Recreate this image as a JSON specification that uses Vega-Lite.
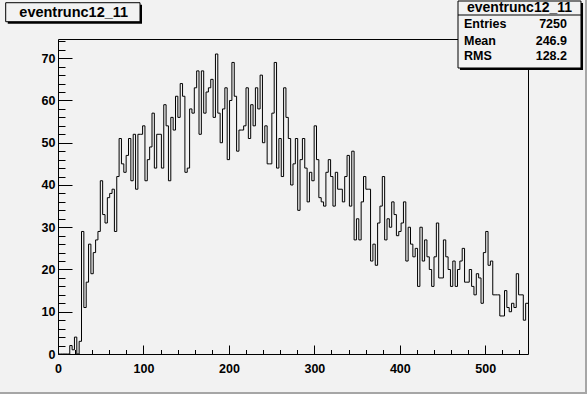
{
  "$schema": "https://vega.github.io/schema/vega-lite/v6.json",
  "width": 470,
  "height": 315,
  "autosize": "none",
  "padding": {"left": 58, "top": 39, "right": 59, "bottom": 40},
  "background": "#f2f2f2",
  "config": {
    "view": {"stroke": "black", "strokeWidth": 1, "fill": "#f2f2f2"},
    "font": "Liberation Sans",
    "axis": {"domain": false, "grid": false, "labelFont": "Liberation Sans", "labelFontWeight": "bold", "labelFontSize": 12.5, "labelColor": "black", "tickColor": "black", "tickWidth": 1, "labelOverlap": false, "labelFlush": false}
  },
  "resolve": {"axis": {"x": "independent", "y": "independent"}},
  "layer": [
    {
      "data": {"values": [
        {"x":0,"n":0},{"x":2.75,"n":0},{"x":5.5,"n":0},{"x":8.25,"n":0},{"x":11,"n":0},{"x":13.75,"n":2},{"x":16.5,"n":1},{"x":19.25,"n":4},{"x":22,"n":0},{"x":24.75,"n":3},
        {"x":27.5,"n":29},{"x":30.25,"n":11},{"x":33,"n":17},{"x":35.75,"n":26},{"x":38.5,"n":19},{"x":41.25,"n":24},{"x":44,"n":27},{"x":46.75,"n":29},{"x":49.5,"n":41},{"x":52.25,"n":33},
        {"x":55,"n":31},{"x":57.75,"n":37},{"x":60.5,"n":38},{"x":63.25,"n":39},{"x":66,"n":29},{"x":68.75,"n":42},{"x":71.5,"n":51},{"x":74.25,"n":45},{"x":77,"n":43},{"x":79.75,"n":47},
        {"x":82.5,"n":51},{"x":85.25,"n":41},{"x":88,"n":52},{"x":90.75,"n":39},{"x":93.5,"n":52},{"x":96.25,"n":52},{"x":99,"n":54},{"x":101.75,"n":41},{"x":104.5,"n":46},{"x":107.25,"n":49},
        {"x":110,"n":57},{"x":112.75,"n":44},{"x":115.5,"n":52},{"x":118.25,"n":52},{"x":121,"n":44},{"x":123.75,"n":59},{"x":126.5,"n":54},{"x":129.25,"n":41},{"x":132,"n":56},{"x":134.75,"n":53},
        {"x":137.5,"n":61},{"x":140.25,"n":56},{"x":143,"n":64},{"x":145.75,"n":61},{"x":148.5,"n":43},{"x":151.25,"n":44},{"x":154,"n":58},{"x":156.75,"n":57},{"x":159.5,"n":63},{"x":162.25,"n":67},
        {"x":165,"n":52},{"x":167.75,"n":67},{"x":170.5,"n":57},{"x":173.25,"n":62},{"x":176,"n":63},{"x":178.75,"n":65},{"x":181.5,"n":56},{"x":184.25,"n":71},{"x":187,"n":57},{"x":189.75,"n":50},
        {"x":192.5,"n":58},{"x":195.25,"n":63},{"x":198,"n":46},{"x":200.75,"n":60},{"x":203.5,"n":69},{"x":206.25,"n":61},{"x":209,"n":48},{"x":211.75,"n":53},{"x":214.5,"n":53},{"x":217.25,"n":54},
        {"x":220,"n":63},{"x":222.75,"n":51},{"x":225.5,"n":59},{"x":228.25,"n":54},{"x":231,"n":63},{"x":233.75,"n":58},{"x":236.5,"n":66},{"x":239.25,"n":50},{"x":242,"n":54},{"x":244.75,"n":45},
        {"x":247.5,"n":45},{"x":250.25,"n":57},{"x":253,"n":69},{"x":255.75,"n":44},{"x":258.5,"n":51},{"x":261.25,"n":42},{"x":264,"n":63},{"x":266.75,"n":56},{"x":269.5,"n":51},{"x":272.25,"n":40},
        {"x":275,"n":45},{"x":277.75,"n":51},{"x":280.5,"n":34},{"x":283.25,"n":46},{"x":286,"n":51},{"x":288.75,"n":44},{"x":291.5,"n":36},{"x":294.25,"n":43},{"x":297,"n":41},{"x":299.75,"n":54},
        {"x":302.5,"n":46},{"x":305.25,"n":37},{"x":308,"n":36},{"x":310.75,"n":35},{"x":313.5,"n":43},{"x":316.25,"n":46},{"x":319,"n":42},{"x":321.75,"n":35},{"x":324.5,"n":43},{"x":327.25,"n":39},
        {"x":330,"n":39},{"x":332.75,"n":36},{"x":335.5,"n":42},{"x":338.25,"n":47},{"x":341,"n":35},{"x":343.75,"n":48},{"x":346.5,"n":27},{"x":349.25,"n":32},{"x":352,"n":27},{"x":354.75,"n":36},
        {"x":357.5,"n":42},{"x":360.25,"n":39},{"x":363,"n":39},{"x":365.75,"n":22},{"x":368.5,"n":26},{"x":371.25,"n":21},{"x":374,"n":31},{"x":376.75,"n":35},{"x":379.5,"n":42},{"x":382.25,"n":27},
        {"x":385,"n":32},{"x":387.75,"n":30},{"x":390.5,"n":36},{"x":393.25,"n":33},{"x":396,"n":28},{"x":398.75,"n":29},{"x":401.5,"n":31},{"x":404.25,"n":36},{"x":407,"n":22},{"x":409.75,"n":30},
        {"x":412.5,"n":26},{"x":415.25,"n":23},{"x":418,"n":25},{"x":420.75,"n":16},{"x":423.5,"n":30},{"x":426.25,"n":22},{"x":429,"n":27},{"x":431.75,"n":23},{"x":434.5,"n":20},{"x":437.25,"n":16},
        {"x":440,"n":23},{"x":442.75,"n":31},{"x":445.5,"n":18},{"x":448.25,"n":18},{"x":451,"n":27},{"x":453.75,"n":23},{"x":456.5,"n":20},{"x":459.25,"n":16},{"x":462,"n":22},{"x":464.75,"n":16},
        {"x":467.5,"n":20},{"x":470.25,"n":22},{"x":473,"n":25},{"x":475.75,"n":17},{"x":478.5,"n":17},{"x":481.25,"n":20},{"x":484,"n":16},{"x":486.75,"n":14},{"x":489.5,"n":19},{"x":492.25,"n":18},
        {"x":495,"n":12},{"x":497.75,"n":24},{"x":500.5,"n":29},{"x":503.25,"n":21},{"x":506,"n":22},{"x":508.75,"n":14},{"x":511.5,"n":14},{"x":514.25,"n":14},{"x":517,"n":9},{"x":519.75,"n":9},
        {"x":522.5,"n":15},{"x":525.25,"n":11},{"x":528,"n":10},{"x":530.75,"n":12},{"x":533.5,"n":11},{"x":536.25,"n":19},{"x":539,"n":14},{"x":541.75,"n":14},{"x":544.5,"n":8},{"x":547.25,"n":12},
        {"x":550,"n":12}
      ]},
      "mark": {"type": "line", "interpolate": "step-after", "color": "black", "strokeWidth": 1, "clip": true},
      "encoding": {
        "x": {
          "field": "x", "type": "quantitative",
          "scale": {"domain": [0, 550], "nice": false, "zero": false},
          "axis": {
            "title": null, "orient": "bottom",
            "values": [0,20,40,60,80,100,120,140,160,180,200,220,240,260,280,300,320,340,360,380,400,420,440,460,480,500,520,540],
            "labelExpr": "datum.value % 100 === 0 ? datum.label : ''",
            "tickSize": {"condition": {"test": "datum.value % 100 === 0", "value": -9}, "value": -4.5},
            "labelPadding": 17
          }
        },
        "y": {
          "field": "n", "type": "quantitative",
          "scale": {"domain": [0, 74.55], "nice": false, "zero": true},
          "axis": {
            "title": null, "orient": "left",
            "values": [0,2,4,6,8,10,12,14,16,18,20,22,24,26,28,30,32,34,36,38,40,42,44,46,48,50,52,54,56,58,60,62,64,66,68,70,72,74],
            "labelExpr": "datum.value % 10 === 0 ? datum.label : ''",
            "tickSize": {"condition": {"test": "datum.value % 10 === 0", "value": -14}, "value": -7},
            "labelPadding": 17
          }
        }
      }
    },
    {
      "data": {"values": [{}]},
      "mark": {"type": "rect", "color": "#a6a6a6", "clip": false},
      "encoding": {
        "x": {"datum": 616.7, "type": "quantitative", "axis": null},
        "x2": {"datum": 619.5},
        "y": {"datum": 84, "type": "quantitative", "axis": null},
        "y2": {"datum": -9.6}
      }
    },
    {
      "data": {"values": [{}]},
      "mark": {"type": "rect", "color": "#a6a6a6", "clip": false},
      "encoding": {
        "x": {"datum": -68, "type": "quantitative", "axis": null},
        "x2": {"datum": 619.5},
        "y": {"datum": -8.99, "type": "quantitative", "axis": null},
        "y2": {"datum": -9.6}
      }
    },
    {
      "data": {"values": [{}]},
      "mark": {"type": "rect", "color": "black", "clip": false},
      "encoding": {
        "x": {"datum": -58.8, "type": "quantitative", "axis": null},
        "x2": {"datum": 98.3},
        "y": {"datum": 82.67, "type": "quantitative", "axis": null},
        "y2": {"datum": 78.17}
      }
    },
    {
      "data": {"values": [{}]},
      "mark": {"type": "rect", "fill": "#f2f2f2", "stroke": "black", "strokeWidth": 1, "clip": false},
      "encoding": {
        "x": {"datum": -61.2, "type": "quantitative", "axis": null},
        "x2": {"datum": 95.96},
        "y": {"datum": 83.14, "type": "quantitative", "axis": null},
        "y2": {"datum": 78.64}
      }
    },
    {
      "data": {"values": [{}]},
      "mark": {"type": "text", "text": "eventrunc12_11", "font": "Liberation Sans", "fontWeight": "bold", "fontSize": 14.5, "align": "center", "baseline": "middle", "color": "black", "clip": false},
      "encoding": {
        "x": {"datum": 18.4, "type": "quantitative", "axis": null},
        "y": {"datum": 80.7, "type": "quantitative", "axis": null}
      }
    },
    {
      "data": {"values": [{}]},
      "mark": {"type": "rect", "color": "black", "clip": false},
      "encoding": {
        "x": {"datum": 470.4, "type": "quantitative", "axis": null},
        "x2": {"datum": 614.4},
        "y": {"datum": 83.07, "type": "quantitative", "axis": null},
        "y2": {"datum": 67.21}
      }
    },
    {
      "data": {"values": [{}]},
      "mark": {"type": "rect", "fill": "#f2f2f2", "stroke": "black", "strokeWidth": 1, "clip": false},
      "encoding": {
        "x": {"datum": 468.1, "type": "quantitative", "axis": null},
        "x2": {"datum": 612.0},
        "y": {"datum": 83.54, "type": "quantitative", "axis": null},
        "y2": {"datum": 67.69}
      }
    },
    {
      "data": {"values": [{}]},
      "mark": {"type": "rule", "color": "black", "strokeWidth": 1, "clip": false},
      "encoding": {
        "x": {"datum": 468.1, "type": "quantitative", "axis": null},
        "x2": {"datum": 612.0},
        "y": {"datum": 80.23, "type": "quantitative", "axis": null}
      }
    },
    {
      "data": {"values": [{}]},
      "mark": {"type": "text", "text": "eventrunc12_11", "font": "Liberation Sans", "fontWeight": "bold", "fontSize": 14, "align": "center", "baseline": "middle", "color": "black", "clip": false},
      "encoding": {
        "x": {"datum": 540.05, "type": "quantitative", "axis": null},
        "y": {"datum": 81.89, "type": "quantitative", "axis": null}
      }
    },
    {
      "data": {"values": [{"stat": "Entries", "val": "7250"}, {"stat": "Mean", "val": "246.9"}, {"stat": "RMS", "val": "128.2"}]},
      "layer": [
        {
          "transform": [{"filter": "datum.stat === 'Entries'"}],
          "layer": [
            {"mark": {"type": "text", "font": "Liberation Sans", "fontWeight": "bold", "fontSize": 12.5, "align": "left", "baseline": "middle", "color": "black", "clip": false},
             "encoding": {"x": {"datum": 475.1, "type": "quantitative", "axis": null}, "y": {"datum": 78.03, "type": "quantitative", "axis": null}, "text": {"field": "stat"}}},
            {"mark": {"type": "text", "font": "Liberation Sans", "fontWeight": "bold", "fontSize": 12.5, "align": "right", "baseline": "middle", "color": "black", "clip": false},
             "encoding": {"x": {"datum": 595.6, "type": "quantitative", "axis": null}, "y": {"datum": 78.03, "type": "quantitative", "axis": null}, "text": {"field": "val"}}}
          ]
        },
        {
          "transform": [{"filter": "datum.stat === 'Mean'"}],
          "layer": [
            {"mark": {"type": "text", "font": "Liberation Sans", "fontWeight": "bold", "fontSize": 12.5, "align": "left", "baseline": "middle", "color": "black", "clip": false},
             "encoding": {"x": {"datum": 475.1, "type": "quantitative", "axis": null}, "y": {"datum": 74.19, "type": "quantitative", "axis": null}, "text": {"field": "stat"}}},
            {"mark": {"type": "text", "font": "Liberation Sans", "fontWeight": "bold", "fontSize": 12.5, "align": "right", "baseline": "middle", "color": "black", "clip": false},
             "encoding": {"x": {"datum": 595.6, "type": "quantitative", "axis": null}, "y": {"datum": 74.19, "type": "quantitative", "axis": null}, "text": {"field": "val"}}}
          ]
        },
        {
          "transform": [{"filter": "datum.stat === 'RMS'"}],
          "layer": [
            {"mark": {"type": "text", "font": "Liberation Sans", "fontWeight": "bold", "fontSize": 12.5, "align": "left", "baseline": "middle", "color": "black", "clip": false},
             "encoding": {"x": {"datum": 475.1, "type": "quantitative", "axis": null}, "y": {"datum": 70.64, "type": "quantitative", "axis": null}, "text": {"field": "stat"}}},
            {"mark": {"type": "text", "font": "Liberation Sans", "fontWeight": "bold", "fontSize": 12.5, "align": "right", "baseline": "middle", "color": "black", "clip": false},
             "encoding": {"x": {"datum": 595.6, "type": "quantitative", "axis": null}, "y": {"datum": 70.64, "type": "quantitative", "axis": null}, "text": {"field": "val"}}}
          ]
        }
      ]
    }
  ]
}
